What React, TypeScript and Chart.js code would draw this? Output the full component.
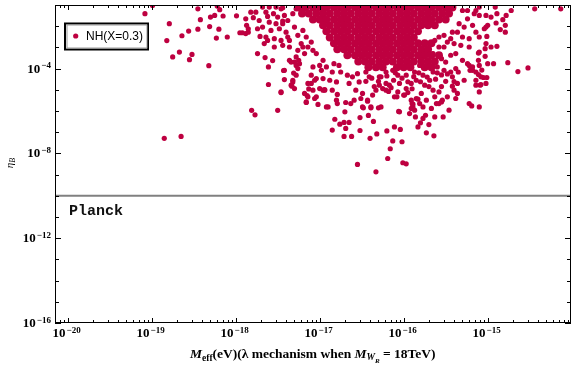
import { useEffect, useRef } from "react";
import { Chart, registerables } from "chart.js";

Chart.register(...registerables);

// ---- axis ranges (log10) ----
const X_MIN_LOG = -20.151;
const X_MAX_LOG = -14.008;
const Y_MIN_LOG = -16;
const Y_MAX_LOG = -1;

const xTickExps = [-20, -19, -18, -17, -16, -15];
const yTickExps = [-16, -12, -8, -4];

const planckEta = 1e-10;
const planckLabel = "Planck";
const seriesLabel = "NH(X=0.3)";
const pointColor = "#be0040";

// ---- scatter points: [log10 Meff(eV), log10 eta_B] ----
const outlierPoints: [number, number][] = [
  [-19.08, -1.41], [-18.99, -1.02], [-18.45, -1.18], [-18.22, -1.05], [-18.19, -1.22], [-18.25, -1.49],
  [-18.30, -1.57], [-18.42, -1.69], [-18.15, -1.52], [-18.79, -1.88], [-18.56, -2.23], [-18.64, -2.45],
  [-18.45, -2.14], [-18.31, -2.02], [-18.20, -2.14], [-18.82, -2.68], [-18.23, -2.56], [-18.10, -2.51],
  [-18.67, -3.22], [-18.75, -3.45], [-18.52, -3.33], [-18.55, -3.58], [-18.32, -3.86], [-17.99, -1.51],
  [-17.95, -2.31], [-17.92, -2.31], [-17.88, -2.35], [-17.85, -2.28], [-17.82, -1.34], [-17.88, -1.65],
  [-17.87, -1.96], [-17.85, -2.12], [-17.79, -1.60], [-17.74, -2.12], [-17.71, -2.48], [-17.74, -3.29],
  [-17.65, -3.48], [-17.61, -3.92], [-17.56, -3.62], [-17.61, -4.75], [-17.81, -5.97], [-17.77, -6.18],
  [-17.50, -5.97], [-18.85, -7.29], [-18.65, -7.20], [-17.46, -5.13], [-17.42, -4.52], [-17.43, -4.09],
  [-17.33, -4.83], [-17.32, -4.55], [-17.31, -4.21], [-17.28, -3.85], [-17.25, -3.61],
];

const lowerPoints: [number, number][] = [
  [-17.16, -5.60], [-17.15, -5.27], [-17.02, -5.69], [-17.06, -5.41], [-17.13, -4.96], [-17.08, -5.02],
  [-17.10, -4.70], [-17.04, -4.47], [-16.96, -5.02], [-16.94, -4.99], [-16.90, -5.81], [-16.85, -6.90],
  [-16.82, -6.39], [-16.79, -5.22], [-16.76, -6.62], [-16.71, -6.54], [-16.69, -6.82], [-16.71, -7.20],
  [-16.65, -6.54], [-16.62, -7.20], [-16.70, -6.04], [-16.69, -5.60], [-16.59, -5.49], [-16.52, -6.31],
  [-16.52, -6.92], [-16.48, -5.85], [-16.42, -6.21], [-16.43, -5.54], [-16.39, -5.85], [-16.40, -7.29],
  [-16.55, -8.52], [-16.36, -6.49], [-16.32, -7.08], [-16.33, -8.87], [-16.30, -5.85], [-16.27, -5.81],
  [-16.20, -6.94], [-16.13, -7.41], [-16.16, -7.78], [-16.11, -6.75], [-16.04, -6.87], [-16.02, -7.45],
  [-16.06, -6.02], [-16.19, -8.24], [-16.01, -8.44], [-15.97, -8.49], [-15.83, -6.75], [-15.80, -6.56],
  [-15.73, -7.03], [-15.77, -6.35], [-15.74, -6.20], [-15.83, -5.44], [-15.89, -5.68], [-15.87, -5.96],
  [-15.95, -5.13], [-16.00, -5.25], [-16.08, -5.33], [-16.18, -5.08],
  [-16.38, -4.45], [-16.30, -4.60], [-16.20, -4.35], [-16.12, -4.55], [-16.02, -4.45], [-15.95, -4.62],
  [-15.88, -4.38], [-15.80, -4.62], [-15.72, -4.40], [-15.62, -4.50], [-15.55, -4.30], [-15.50, -4.60],
  [-16.35, -4.85], [-16.15, -4.90], [-15.90, -4.95], [-15.70, -4.85], [-15.55, -4.85], [-16.45, -4.60],
  [-16.10, -4.20], [-15.82, -4.20], [-15.60, -4.20], [-15.48, -4.25],
];

const leftFringePoints: [number, number][] = [
  [-17.46, -1.18], [-17.42, -1.49], [-17.44, -1.88], [-17.38, -1.73], [-17.32, -1.41], [-17.28, -1.18],
  [-17.40, -2.28], [-17.46, -2.67], [-17.36, -2.67], [-17.26, -2.43], [-17.30, -2.04], [-17.20, -2.20],
  [-17.22, -2.82], [-17.16, -2.51], [-17.14, -2.98], [-17.10, -2.75], [-17.08, -3.14], [-17.04, -3.29],
  [-17.18, -3.29], [-17.34, -3.69], [-17.30, -3.69], [-17.24, -3.77], [-17.26, -4.00], [-17.42, -4.08],
  [-17.28, -4.31], [-17.00, -3.85], [-16.96, -3.61], [-16.98, -4.08], [-16.92, -3.92], [-17.08, -3.92],
  [-17.10, -4.31], [-17.06, -4.55], [-17.14, -4.70], [-17.32, -4.63], [-17.34, -4.78], [-17.30, -4.94],
  [-17.46, -5.10], [-17.18, -5.17], [-17.14, -5.33], [-17.16, -5.57], [-17.04, -5.33], [-17.00, -4.94],
  [-16.94, -5.02], [-16.96, -4.47], [-16.88, -4.55], [-16.85, -4.16], [-16.83, -3.77], [-16.77, -3.85],
  [-16.75, -4.16], [-16.80, -4.63], [-16.85, -5.02], [-16.80, -5.49], [-16.92, -5.81], [-16.79, -5.65],
  [-16.67, -4.31], [-16.65, -4.70], [-16.61, -4.39], [-16.55, -4.24], [-16.53, -4.63], [-16.57, -5.02],
  [-16.49, -5.17], [-16.51, -5.41], [-16.43, -5.49], [-16.37, -5.25], [-16.33, -5.02], [-16.29, -4.78],
  [-16.25, -4.94], [-16.21, -4.70], [-16.29, -4.39], [-16.41, -4.39], [-16.45, -4.16], [-16.63, -5.65],
  [-16.49, -5.81], [-16.39, -5.81],
  [-17.68, -1.10], [-17.60, -1.10], [-17.52, -1.10], [-17.44, -1.13], [-17.64, -1.34], [-17.55, -1.41],
  [-17.62, -1.54], [-17.50, -1.57], [-17.60, -1.81], [-17.52, -1.88], [-17.44, -1.76], [-17.68, -2.04],
  [-17.58, -2.20], [-17.48, -2.12], [-17.64, -2.51], [-17.54, -2.59], [-17.38, -2.51], [-17.44, -2.90],
  [-17.54, -2.98], [-17.36, -2.98], [-17.26, -3.14], [-17.20, -2.98], [-17.28, -3.45], [-17.36, -3.61],
  [-17.72, -1.73], [-17.76, -1.34], [-17.66, -2.82], [-17.62, -2.67],
];

const rightFringePoints: [number, number][] = [
  [-15.10, -1.10], [-15.16, -1.41], [-15.24, -1.65], [-15.10, -1.49], [-15.02, -1.49], [-15.18, -1.96],
  [-15.28, -2.04], [-15.36, -2.28], [-15.14, -2.28], [-15.10, -2.51], [-15.04, -2.12], [-15.22, -2.59],
  [-15.30, -2.51], [-15.44, -2.59], [-15.48, -2.75], [-15.40, -2.82], [-15.52, -2.98], [-15.32, -2.90],
  [-15.22, -2.98], [-15.10, -3.22], [-15.02, -2.82], [-15.38, -3.29], [-15.44, -3.37], [-15.30, -3.61],
  [-15.24, -3.77], [-15.38, -4.00], [-15.50, -3.69], [-15.55, -3.53], [-15.60, -3.92], [-15.65, -4.16],
  [-15.52, -4.08], [-15.44, -4.16], [-15.18, -4.08], [-15.14, -4.55], [-15.08, -4.39], [-15.02, -4.70],
  [-15.28, -4.55], [-15.36, -4.70], [-15.40, -5.02], [-15.10, -5.10], [-15.69, -4.55], [-15.75, -4.78],
  [-15.65, -5.02], [-15.58, -5.10], [-15.63, -5.33], [-15.79, -5.17], [-15.85, -5.41], [-15.73, -5.49],
  [-15.81, -5.65], [-15.89, -5.81], [-15.77, -5.81], [-15.58, -5.65], [-15.91, -5.49], [-15.99, -5.25],
  [-16.07, -5.10], [-16.11, -5.33], [-16.21, -5.02], [-16.17, -4.78], [-16.05, -4.70], [-15.97, -4.94],
  [-15.91, -4.70], [-15.85, -4.55], [-15.77, -4.31], [-15.87, -4.16], [-15.97, -4.31], [-16.07, -4.31],
  [-15.22, -5.65], [-15.10, -5.81], [-15.38, -5.41], [-15.48, -5.33], [-15.54, -5.49], [-15.63, -2.67],
  [-15.58, -2.98], [-15.69, -2.82], [-15.71, -3.06], [-15.77, -3.22], [-15.65, -3.29], [-15.79, -3.53],
  [-15.71, -3.61], [-15.81, -3.85], [-15.89, -3.69], [-15.95, -3.85], [-16.05, -3.92], [-16.13, -4.08],
  [-16.21, -4.16], [-16.25, -3.92], [-16.27, -4.39], [-15.58, -2.51], [-15.52, -2.43], [-15.42, -2.28],
  [-15.34, -1.88], [-15.30, -1.26], [-15.24, -1.26], [-15.14, -1.26],
  [-14.91, -1.10], [-14.44, -1.18], [-14.13, -1.18], [-14.72, -1.26], [-14.78, -1.49], [-14.89, -1.41],
  [-14.96, -1.57], [-14.82, -1.69], [-15.00, -1.96], [-14.90, -1.85], [-14.79, -1.96], [-14.85, -2.16],
  [-14.79, -2.28], [-15.02, -2.04], [-15.01, -2.48], [-14.89, -2.95], [-14.96, -2.98], [-15.03, -3.06],
  [-15.11, -3.27], [-15.03, -3.42], [-15.00, -3.77], [-14.93, -3.77], [-14.76, -3.72], [-14.64, -4.14],
  [-14.52, -3.97], [-15.01, -4.42], [-15.05, -4.42], [-15.08, -4.75], [-15.11, -4.28], [-15.19, -5.76],
  [-15.36, -5.17], [-15.46, -5.96], [-15.53, -6.28], [-15.63, -6.28], [-15.70, -6.64], [-15.64, -7.17],
  [-15.86, -6.28], [-15.67, -5.88], [-15.61, -5.65], [-15.55, -5.57], [-15.42, -4.83], [-15.40, -4.61],
  [-15.35, -4.16], [-15.42, -4.39], [-16.05, -6.04], [-15.91, -5.88], [-15.93, -6.12], [-15.90, -5.65],
  [-15.22, -3.85], [-15.21, -4.08], [-15.18, -3.92], [-15.11, -3.61], [-15.10, -3.85], [-15.14, -4.16],
  [-15.07, -4.07], [-15.14, -4.78], [-15.09, -4.78],
];

// dense core of the cloud, row by row (log10 eta_B of each row, then log10 Meff values)
const coreRowLogEta = [-1.12, -1.40, -1.68, -1.96, -2.24, -2.53, -2.81, -3.09, -3.37, -3.66, -3.94];
const coreRowLogMeff: number[][] = [
  [-17.25, -17.17, -17.08, -17.00, -16.92, -16.83, -16.75, -16.67, -16.58, -16.50, -16.42, -16.33, -16.25, -16.17, -16.08, -16.00, -15.92, -15.83, -15.75, -15.67, -15.58, -15.50, -15.42],
  [-17.21, -17.13, -17.04, -16.96, -16.88, -16.79, -16.71, -16.63, -16.54, -16.46, -16.38, -16.29, -16.21, -16.13, -16.04, -15.96, -15.88, -15.79, -15.71, -15.63, -15.54, -15.46],
  [-17.08, -17.00, -16.92, -16.83, -16.75, -16.67, -16.58, -16.50, -16.42, -16.33, -16.25, -16.17, -16.08, -16.00, -15.92, -15.83, -15.75, -15.67, -15.58, -15.50],
  [-16.96, -16.88, -16.79, -16.71, -16.63, -16.54, -16.46, -16.38, -16.29, -16.21, -16.13, -16.04, -15.96, -15.88, -15.79, -15.71, -15.63],
  [-16.92, -16.83, -16.75, -16.67, -16.58, -16.50, -16.42, -16.33, -16.25, -16.17, -16.08, -16.00, -15.92, -15.83],
  [-16.88, -16.79, -16.71, -16.63, -16.54, -16.46, -16.38, -16.29, -16.21, -16.13, -16.04, -15.96, -15.88],
  [-16.83, -16.75, -16.67, -16.58, -16.50, -16.42, -16.33, -16.25, -16.17, -16.08, -16.00, -15.92, -15.83, -15.75, -15.67],
  [-16.79, -16.71, -16.63, -16.54, -16.46, -16.38, -16.29, -16.21, -16.13, -16.04, -15.96, -15.88, -15.79, -15.71],
  [-16.67, -16.58, -16.50, -16.42, -16.33, -16.25, -16.17, -16.08, -16.00, -15.92, -15.83, -15.75, -15.67, -15.58],
  [-16.54, -16.46, -16.38, -16.29, -16.21, -16.13, -16.04, -15.96, -15.88, -15.79, -15.71, -15.63],
  [-16.42, -16.33, -16.25, -16.08, -16.00, -15.92, -15.75, -15.67],
];

const SERIF = '"Liberation Serif", "Times New Roman", serif';

const toXY = (p: [number, number]) => ({ x: Math.pow(10, p[0]), y: Math.pow(10, p[1]) });

function drawPow(ctx: CanvasRenderingContext2D, exp: number, x: number, baseline: number, align: "right" | "center") {
  const main = "10";
  const sup = "\u2212" + Math.abs(exp);
  ctx.font = `bold 13px ${SERIF}`;
  const w1 = ctx.measureText(main).width;
  ctx.font = `bold 9px ${SERIF}`;
  const w2 = ctx.measureText(sup).width;
  const total = w1 + 1 + w2;
  const start = align === "right" ? x - total : x - total / 2;
  ctx.textAlign = "left";
  ctx.textBaseline = "alphabetic";
  ctx.font = `bold 13px ${SERIF}`;
  ctx.fillText(main, start, baseline);
  ctx.font = `bold 9px ${SERIF}`;
  ctx.fillText(sup, start + w1 + 1, baseline - 4.5);
}

const decorPlugin = {
  id: "decor",
  afterDatasetsDraw(chart: any) {
    const { ctx, chartArea: ca, scales } = chart;
    const xs = scales.x;
    const ys = scales.y;
    ctx.save();
    ctx.fillStyle = "#000";
    ctx.strokeStyle = "#000";
    ctx.lineWidth = 1;
    // frame
    ctx.strokeRect(ca.left + 0.5, ca.top + 0.5, ca.right - ca.left - 1, ca.bottom - ca.top - 1);
    // x ticks
    ctx.beginPath();
    for (let n = -21; n <= -14; n++) {
      for (let m = 1; m <= 9; m++) {
        const v = m * Math.pow(10, n);
        const lv = Math.log10(v);
        if (lv < X_MIN_LOG || lv > X_MAX_LOG) continue;
        const px = Math.round(xs.getPixelForValue(v)) + 0.5;
        const len = m === 1 ? 5 : 3;
        ctx.moveTo(px, ca.bottom);
        ctx.lineTo(px, ca.bottom - len);
        ctx.moveTo(px, ca.top);
        ctx.lineTo(px, ca.top + len);
      }
    }
    // y ticks
    for (let e = Y_MIN_LOG; e <= Y_MAX_LOG; e++) {
      const py = Math.round(ys.getPixelForValue(Math.pow(10, e))) + 0.5;
      const len = yTickExps.includes(e) ? 6 : 4;
      ctx.moveTo(ca.left, py);
      ctx.lineTo(ca.left + len, py);
      ctx.moveTo(ca.right, py);
      ctx.lineTo(ca.right - len, py);
    }
    ctx.stroke();

    // tick labels
    for (const e of xTickExps) {
      const px = xs.getPixelForValue(Math.pow(10, e));
      drawPow(ctx, e, px - 1, ca.bottom + 14, "center");
    }
    for (const e of yTickExps) {
      const py = ys.getPixelForValue(Math.pow(10, e));
      drawPow(ctx, e, 51, py + 4, "right");
    }

    // x axis title
    let tx = 190;
    const tb = 358;
    const piece = (text: string, font: string, dy: number) => {
      ctx.font = font;
      ctx.fillText(text, tx, tb + dy);
      tx += ctx.measureText(text).width;
    };
    ctx.textAlign = "left";
    piece("M", `italic bold 13.5px ${SERIF}`, 0);
    piece("eff", `bold 9.5px ${SERIF}`, 3);
    piece("(eV)(\u03bb mechanism when ", `bold 13.5px ${SERIF}`, 0);
    piece("M", `italic bold 13.5px ${SERIF}`, 0);
    piece("W", `italic bold 9.5px ${SERIF}`, 2);
    piece("R", `italic bold 7px ${SERIF}`, 5);
    piece(" = 18TeV)", `bold 13.5px ${SERIF}`, 0);

    // y axis title (rotated)
    ctx.save();
    ctx.translate(13, 163);
    ctx.rotate(-Math.PI / 2);
    ctx.font = `italic 11px ${SERIF}`;
    const wEta = ctx.measureText("\u03b7").width;
    ctx.font = `italic 8px ${SERIF}`;
    const wB = ctx.measureText("B").width;
    const s0 = -(wEta + wB) / 2;
    ctx.font = `italic 11px ${SERIF}`;
    ctx.fillText("\u03b7", s0, 0);
    ctx.font = `italic 8px ${SERIF}`;
    ctx.fillText("B", s0 + wEta, 2);
    ctx.restore();

    // Planck label
    ctx.font = `bold 15px "Liberation Mono", "DejaVu Sans Mono", monospace`;
    ctx.textBaseline = "middle";
    ctx.fillStyle = "#111";
    const planckY = ys.getPixelForValue(planckEta);
    ctx.fillText(planckLabel, 69, planckY + 15);

    // legend box
    ctx.lineWidth = 2;
    ctx.strokeStyle = "#000";
    ctx.strokeRect(65, 23.5, 83, 26);
    ctx.lineWidth = 1;
    ctx.strokeStyle = "#9a9a9a";
    ctx.strokeRect(67, 25, 80, 23);
    ctx.fillStyle = pointColor;
    ctx.beginPath();
    ctx.arc(75.7, 36, 2.6, 0, Math.PI * 2);
    ctx.fill();
    ctx.fillStyle = "#000";
    ctx.font = `12px "Liberation Sans", Arial, sans-serif`;
    ctx.textBaseline = "middle";
    ctx.fillText(seriesLabel, 86, 36.5);
    ctx.restore();
  },
};

export default function App() {
  const ref = useRef<HTMLCanvasElement | null>(null);
  useEffect(() => {
    if (!ref.current) return;
    const fringe = [...outlierPoints, ...lowerPoints, ...leftFringePoints, ...rightFringePoints].map(toXY);
    const core: { x: number; y: number }[] = [];
    coreRowLogEta.forEach((ly, i) => {
      coreRowLogMeff[i].forEach((lx) => core.push(toXY([lx, ly])));
    });
    const xMin = Math.pow(10, X_MIN_LOG);
    const xMax = Math.pow(10, X_MAX_LOG);
    const chart = new Chart(ref.current, {
      type: "scatter",
      data: {
        datasets: [
          {
            label: "Planck",
            data: [{ x: xMin, y: planckEta }, { x: xMax, y: planckEta }],
            showLine: true,
            borderColor: "#808080",
            borderWidth: 2,
            pointRadius: 0,
            clip: 0,
          } as any,
          {
            label: seriesLabel,
            data: core,
            backgroundColor: pointColor,
            borderWidth: 0,
            pointRadius: 4,
            clip: 0,
          },
          {
            label: seriesLabel,
            data: fringe,
            backgroundColor: pointColor,
            borderWidth: 0,
            pointRadius: 2.6,
            clip: 0,
          },
        ],
      },
      options: {
        animation: false,
        responsive: false,
        events: [],
        layout: { padding: { left: 55, right: 5, top: 5, bottom: 44 } },
        plugins: { legend: { display: false }, tooltip: { enabled: false } },
        scales: {
          x: { type: "logarithmic", min: xMin, max: xMax, display: false },
          y: { type: "logarithmic", min: Math.pow(10, Y_MIN_LOG), max: Math.pow(10, Y_MAX_LOG), display: false },
        },
      },
      plugins: [decorPlugin],
    });
    return () => chart.destroy();
  }, []);
  return (
    <div style={{ position: "absolute", left: 0, top: 0, width: 576, height: 367, background: "#fff" }}>
      <canvas ref={ref} width={576} height={367} style={{ display: "block", width: 576, height: 367 }} />
    </div>
  );
}
